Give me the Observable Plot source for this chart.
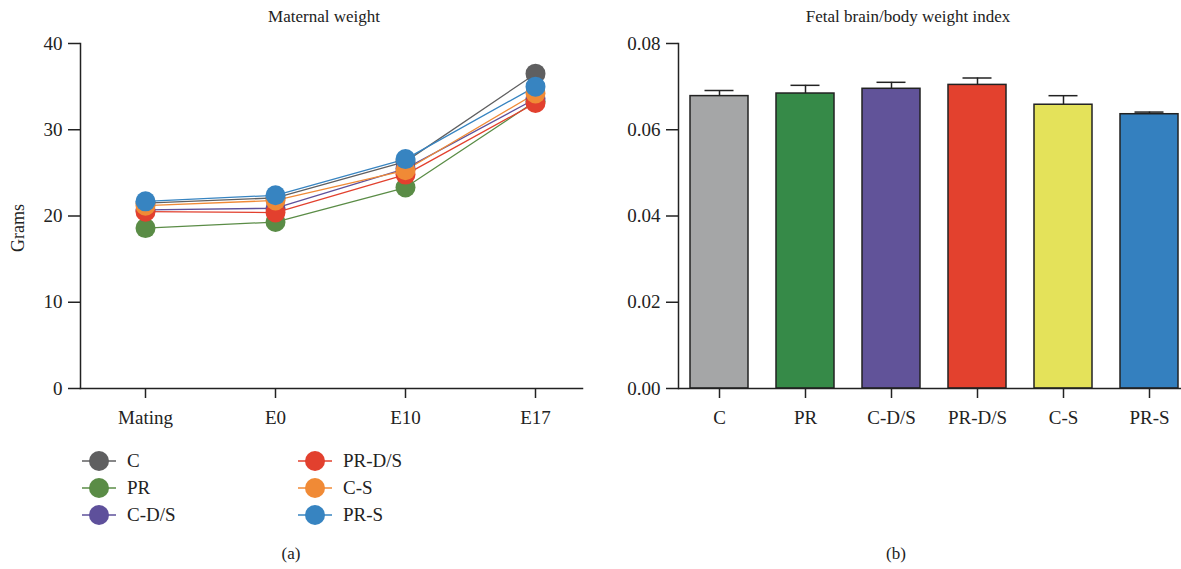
<!DOCTYPE html>
<html><head><meta charset="utf-8">
<script src="https://cdn.jsdelivr.net/npm/d3@7"></script>
<script src="https://cdn.jsdelivr.net/npm/@observablehq/plot@0.6"></script>
<style>
body{margin:0;background:#fff;font-family:"Liberation Serif","DejaVu Serif",serif;color:#222}
#root{position:relative;width:1181px;height:569px;overflow:hidden;background:#fff}
.abs{position:absolute}
.title{font-size:17px;transform:translateX(-50%);white-space:nowrap}
.ylab{font-size:18px;white-space:nowrap;transform:translate(-50%,-50%) rotate(-90deg)}
.leg{position:absolute;display:flex;align-items:center;font-size:19px;white-space:nowrap}
#root svg [aria-label$="axis tick"], #root svg [aria-label$="axis tick"] path, #root svg [aria-label="frame"], #root svg [aria-label="frame"] *{stroke-width:1.5px}
</style></head><body><div id="root"></div>
<script>
// ---- data ----
const timepoints = ["Mating", "E0", "E10", "E17"];
const groups = ["C", "PR", "C-D/S", "PR-D/S", "C-S", "PR-S"];
const lineColors = ["#5f5f60", "#5a8c46", "#5e509b", "#e2402e", "#f08a36", "#3784c1"];
const weightC    = [21.5, 22.1, 26.3, 36.5];
const weightPR   = [18.6, 19.3, 23.3, 33.3];
const weightCDS  = [20.7, 20.9, 25.5, 33.6];
const weightPRDS = [20.5, 20.4, 24.8, 33.1];
const weightCS   = [21.2, 21.8, 25.3, 34.2];
const weightPRS  = [21.7, 22.4, 26.6, 35.0];
const yTicksLeft = [0, 10, 20, 30, 40];

const barValues = [0.0678, 0.0684, 0.0695, 0.0704, 0.0658, 0.0636];
const barErrors = [0.0013, 0.0019, 0.0015, 0.0016, 0.0021, 0.0005];
const barColors = ["#a5a6a7", "#368a48", "#615399", "#e3412e", "#e4e25a", "#3480bf"];
const yTicksRight = [0, 0.02, 0.04, 0.06, 0.08];

// ---- build ----
const weights = [weightC, weightPR, weightCDS, weightPRDS, weightCS, weightPRS];
const lineData = groups.flatMap((g, i) => timepoints.map((t, j) => ({group: g, time: t, value: weights[i][j]})));
const barData = groups.map((g, i) => ({group: g, value: barValues[i], top: barValues[i] + barErrors[i]}));

const root = document.getElementById("root");
const font = '"Liberation Serif","DejaVu Serif",serif';
const baseStyle = {fontFamily: font, fontSize: "19px", color: "#222", background: "transparent"};

const left = Plot.plot({
  width: 600, height: 440,
  marginLeft: 80, marginRight: 18, marginTop: 43, marginBottom: 52,
  style: baseStyle,
  x: {domain: timepoints, range: [80, 600], padding: 0.5, label: null, tickSize: 10, tickPadding: 12, line: true},
  y: {domain: [0, 40], ticks: yTicksLeft, tickSize: 12, tickPadding: 6, label: null, line: true},
  color: {domain: groups, range: lineColors},
  marks: [
    Plot.line(lineData, {x: "time", y: "value", z: "group", stroke: "group", strokeWidth: 1.3}),
    Plot.dot(lineData, {x: "time", y: "value", fill: "group", r: 10})
  ]
});
left.classList.add("abs");
left.style.left = "0px"; left.style.top = "0px";
root.appendChild(left);

const right = Plot.plot({
  width: 581, height: 440,
  marginLeft: 78, marginRight: 0, marginTop: 43, marginBottom: 52,
  style: baseStyle,
  x: {domain: groups, range: [78, 590], paddingInner: 0.33, paddingOuter: 0.13, label: null, tickSize: 10, tickPadding: 12},
  y: {domain: [0, 0.08], ticks: yTicksRight, tickFormat: d3.format(".2f"), tickSize: 12, tickPadding: 6, label: null, line: true},
  color: {domain: groups, range: barColors},
  marks: [
    Plot.ruleX(barData, {x: "group", y1: "value", y2: "top", stroke: "#222", strokeWidth: 1.5}),
    Plot.tickY(barData, {x: "group", y: "top", stroke: "#222", strokeWidth: 1.5, insetLeft: 14.5, insetRight: 14.5}),
    Plot.barY(barData, {x: "group", y: "value", fill: "group", stroke: "#222", strokeWidth: 1.5}),
    Plot.ruleY([0], {stroke: "#222", strokeWidth: 1.5})
  ]
});
right.classList.add("abs");
right.style.left = "600px"; right.style.top = "0px";
root.appendChild(right);

function addText(txt, x, y, cls) {
  const d = document.createElement("div");
  d.className = "abs " + cls;
  d.textContent = txt;
  d.style.left = x + "px"; d.style.top = y + "px";
  root.appendChild(d);
  return d;
}
addText("Maternal weight", 324, 7, "title");
addText("Fetal brain/body weight index", 908, 7, "title");
addText("(a)", 291, 544, "title");
addText("(b)", 896, 544, "title");
addText("Grams", 18, 228, "ylab");

// legend
const legCols = [{x: 82, items: [0, 1, 2]}, {x: 298, items: [3, 4, 5]}];
const rowY = [461, 488, 515];
legCols.forEach(col => col.items.forEach((gi, r) => {
  const d = document.createElement("div");
  d.className = "leg";
  d.style.left = col.x + "px"; d.style.top = (rowY[r] - 12) + "px"; d.style.height = "24px";
  const c = lineColors[gi];
  d.innerHTML = `<svg width="34" height="24" style="margin-right:11px"><line x1="0" x2="34" y1="12" y2="12" stroke="${c}" stroke-width="1.3"/><circle cx="17" cy="12" r="10" fill="${c}"/></svg><span>${groups[gi]}</span>`;
  root.appendChild(d);
}));
</script></body></html>
